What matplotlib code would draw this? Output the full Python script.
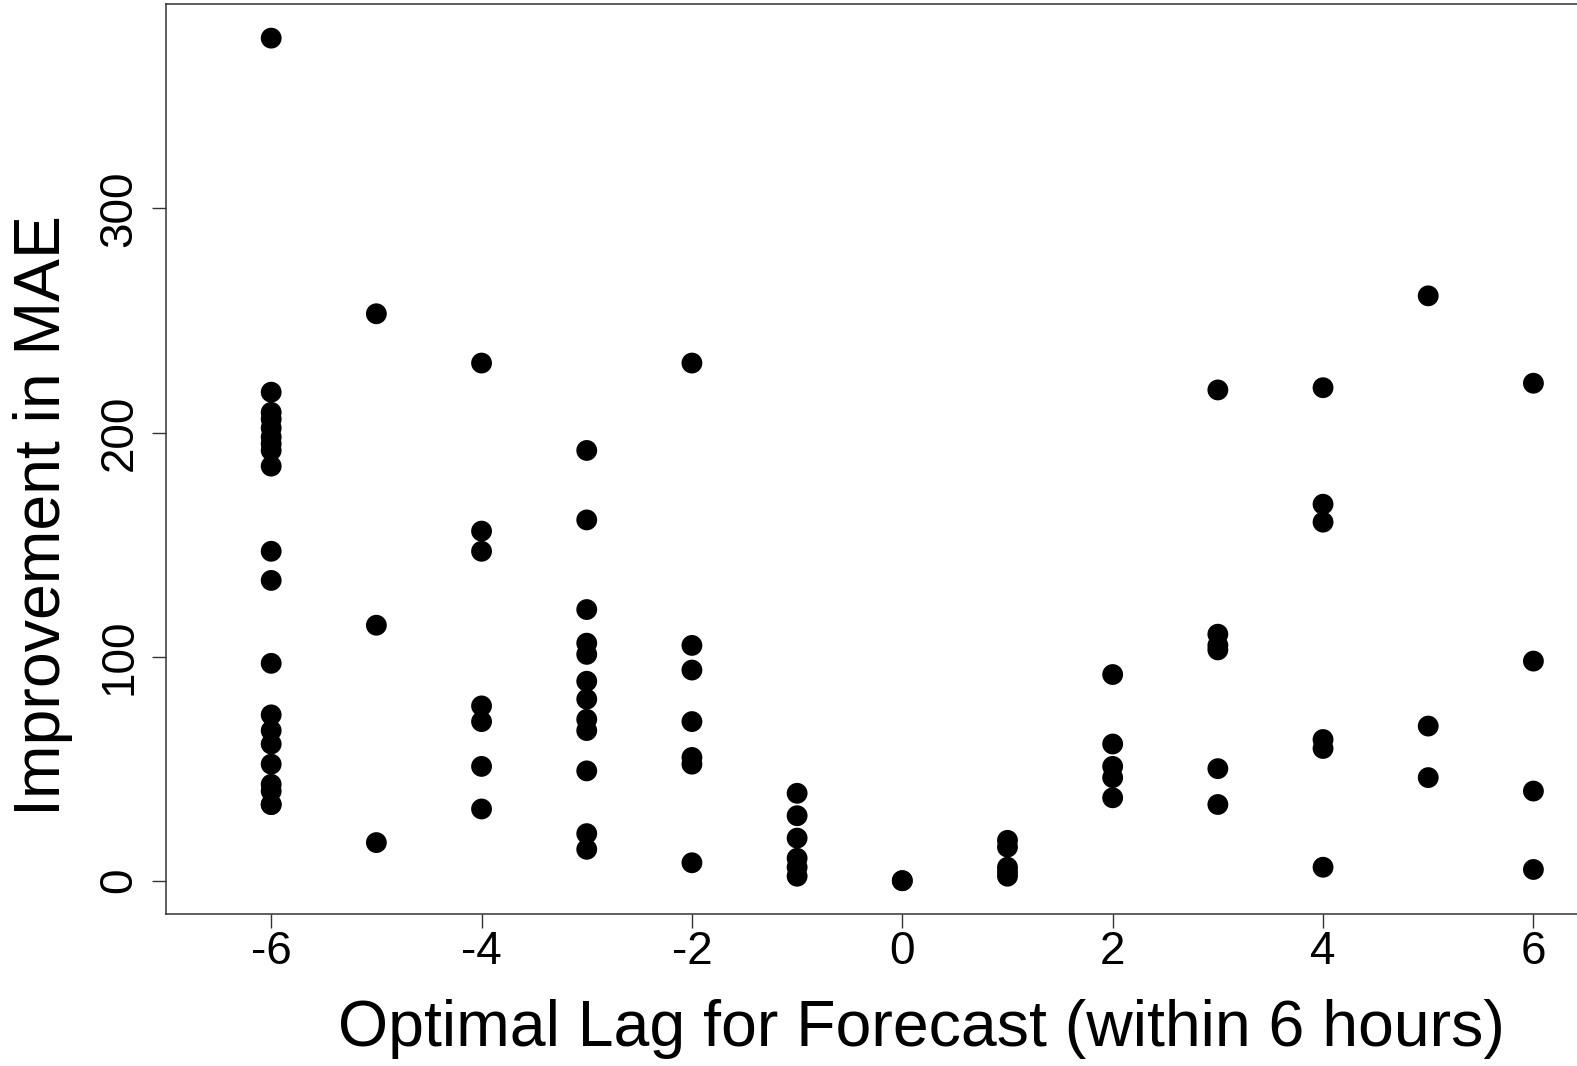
import matplotlib
matplotlib.use("Agg")
import matplotlib.pyplot as plt

plt.rcParams['font.family'] = ['Liberation Sans', 'DejaVu Sans']

lag_m6 = [-6] * 20
mae_m6 = [376, 218, 209, 206, 202, 198, 195, 192, 185, 147, 134, 97,
          74, 67, 61, 52, 43, 40, 34, 34]
lag_m5 = [-5] * 3
mae_m5 = [253, 114, 17]
lag_m4 = [-4] * 7
mae_m4 = [231, 156, 147, 78, 71, 51, 32]
lag_m3 = [-3] * 12
mae_m3 = [192, 161, 121, 106, 101, 89, 81, 72, 67, 49, 21, 14]
lag_m2 = [-2] * 7
mae_m2 = [231, 105, 94, 71, 55, 52, 8]
lag_m1 = [-1] * 6
mae_m1 = [39, 29, 19, 10, 6, 2]
lag_0 = [0] * 2
mae_0 = [0, 0]
lag_p1 = [1] * 5
mae_p1 = [18, 15, 6, 4, 2]
lag_p2 = [2] * 5
mae_p2 = [92, 61, 51, 46, 37]
lag_p3 = [3] * 6
mae_p3 = [219, 110, 105, 103, 50, 34]
lag_p4 = [4] * 6
mae_p4 = [220, 168, 160, 63, 59, 6]
lag_p5 = [5] * 3
mae_p5 = [261, 69, 46]
lag_p6 = [6] * 4
mae_p6 = [222, 98, 40, 5]

lags = (lag_m6 + lag_m5 + lag_m4 + lag_m3 + lag_m2 + lag_m1 + lag_0 +
        lag_p1 + lag_p2 + lag_p3 + lag_p4 + lag_p5 + lag_p6)
maes = (mae_m6 + mae_m5 + mae_m4 + mae_m3 + mae_m2 + mae_m1 + mae_0 +
        mae_p1 + mae_p2 + mae_p3 + mae_p4 + mae_p5 + mae_p6)

x_ticks = [-6, -4, -2, 0, 2, 4, 6]
y_ticks = [0, 100, 200, 300]

W, H = 1577, 1066
fig = plt.figure(figsize=(W / 100, H / 100), dpi=100)
left = 166 / W
bottom = (H - 914.3) / H
height = (914.3 - 4.3) / H
width = (1638.6 - 166) / W
ax = fig.add_axes([left, bottom, width, height])

ax.scatter(lags, maes, s=225, color='black', edgecolors='none', zorder=3)

ax.set_xlim(-7, 7)
ax.set_ylim(-15.0, 391.1)
ax.set_xticks(x_ticks)
ax.set_xticklabels([str(v) for v in x_ticks])
ax.set_yticks(y_ticks)
ax.set_yticklabels([str(v) for v in y_ticks], rotation=90, va='center')

for sp in ax.spines.values():
    sp.set_linewidth(1.1)
    sp.set_color('#333333')
ax.tick_params(axis='both', direction='out', length=10, width=1.0,
               color='#333333', labelsize=33)
ax.tick_params(axis='x', pad=1)
ax.tick_params(axis='y', pad=7.5)

fig.text(921 / W, 1 - 1029 / H, 'Optimal Lag for Forecast (within 6 hours)',
         ha='center', va='center', fontsize=46.4)
fig.text(43 / W, 1 - 516 / H, 'Improvement in MAE', rotation=90,
         ha='center', va='center', fontsize=46.4)

fig.savefig('out.png', dpi=100)
